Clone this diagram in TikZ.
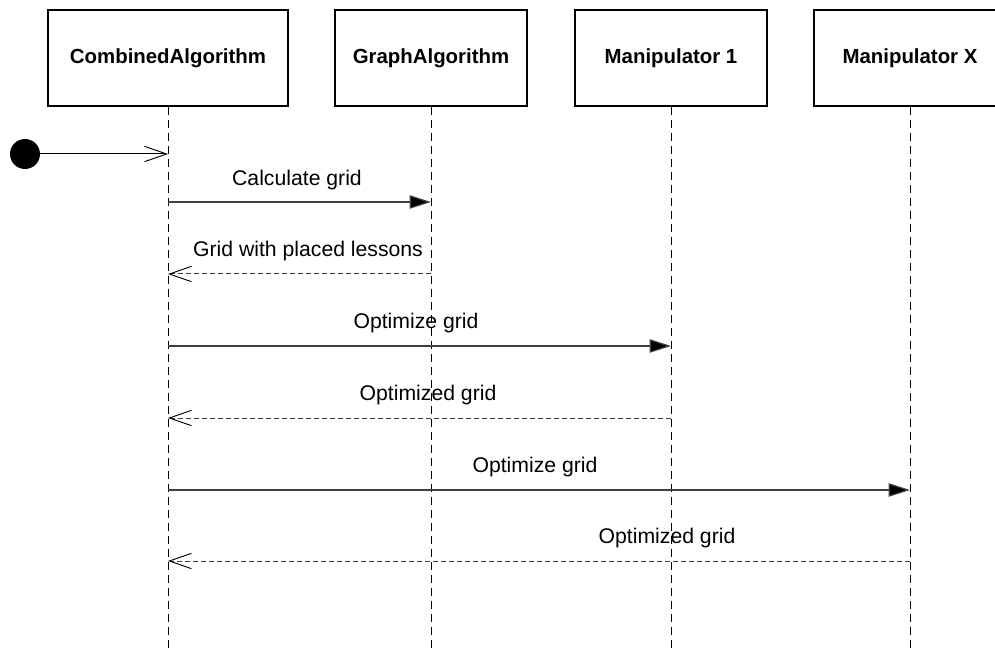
\documentclass[tikz,border=0pt]{standalone}
\usepackage{fontspec}
\setmainfont{Liberation Sans}
\usetikzlibrary{arrows.meta}
\definecolor{msgc}{HTML}{404040}
\tikzset{
  actor/.style={draw=black, line width=0.9pt, fill=white, minimum width=144pt, minimum height=72pt, inner sep=0pt, font=\fontsize{15.3}{18}\selectfont\bfseries},
  lifeline/.style={draw=black, line width=0.75pt, dash pattern=on 6pt off 3.75pt},
  callmsg/.style={draw=msgc, line width=0.9pt, -{Triangle[length=16pt,width=10pt,fill=black]}},
  retmsg/.style={draw=msgc, line width=0.75pt, dash pattern=on 3.75pt off 2.25pt, -{Straight Barb[length=16.5pt,width=11.5pt,line width=0.7pt,black]}},
  initmsg/.style={draw=black, line width=0.75pt, -{Straight Barb[length=16.5pt,width=11.5pt,line width=0.7pt]}},
  msglabel/.style={anchor=base, inner sep=0pt, font=\fontsize{15.9}{19}\selectfont},
  startdot/.style={circle, fill=black, minimum size=22.5pt, inner sep=0pt}
}
\begin{document}
\begin{tikzpicture}[x=0.75pt, y=-0.75pt]
\useasboundingbox (0,0) rectangle (995,648);
% actors
\node[actor, minimum width=180pt] (ca) at (168,58) {CombinedAlgorithm};
\node[actor] (ga) at (431,58) {GraphAlgorithm};
\node[actor] (m1) at (671,58) {Manipulator 1};
\node[actor] (mx) at (910,58) {Manipulator X};
% lifeline ends
\coordinate (caend) at (168,650);
\coordinate (gaend) at (431,650);
\coordinate (m1end) at (671,650);
\coordinate (mxend) at (910,650);
\draw[lifeline] (ca.south) -- (caend);
\draw[lifeline] (ga.south) -- (gaend);
\draw[lifeline] (m1.south) -- (m1end);
\draw[lifeline] (mx.south) -- (mxend);
% start
\node[startdot] (start) at (25,154) {};
\coordinate (s0) at (168,154);
\draw[initmsg] (start.east) -- (s0);
% message points
\coordinate (a1) at (168,202); \coordinate (b1) at (431,202);
\coordinate (a2) at (168,274); \coordinate (b2) at (431,274);
\coordinate (a3) at (168,346); \coordinate (b3) at (671,346);
\coordinate (a4) at (168,418); \coordinate (b4) at (671,418);
\coordinate (a5) at (168,490); \coordinate (b5) at (910,490);
\coordinate (a6) at (168,561); \coordinate (b6) at (910,561);
\draw[callmsg] (a1) -- (b1);
\draw[retmsg] (b2) -- (a2);
\draw[callmsg] (a3) -- (b3);
\draw[retmsg] (b4) -- (a4);
\draw[callmsg] (a5) -- (b5);
\draw[retmsg] (b6) -- (a6);
% labels
\node[msglabel] (l1) at (297,186) {Calculate grid};
\node[msglabel] (l2) at (308,257) {Grid with placed lessons};
\node[msglabel] (l3) at (416,329) {Optimize grid};
\node[msglabel] (l4) at (428,400) {Optimized grid};
\node[msglabel] (l5) at (535,472) {Optimize grid};
\node[msglabel] (l6) at (667,543) {Optimized grid};
\end{tikzpicture}
\end{document}
